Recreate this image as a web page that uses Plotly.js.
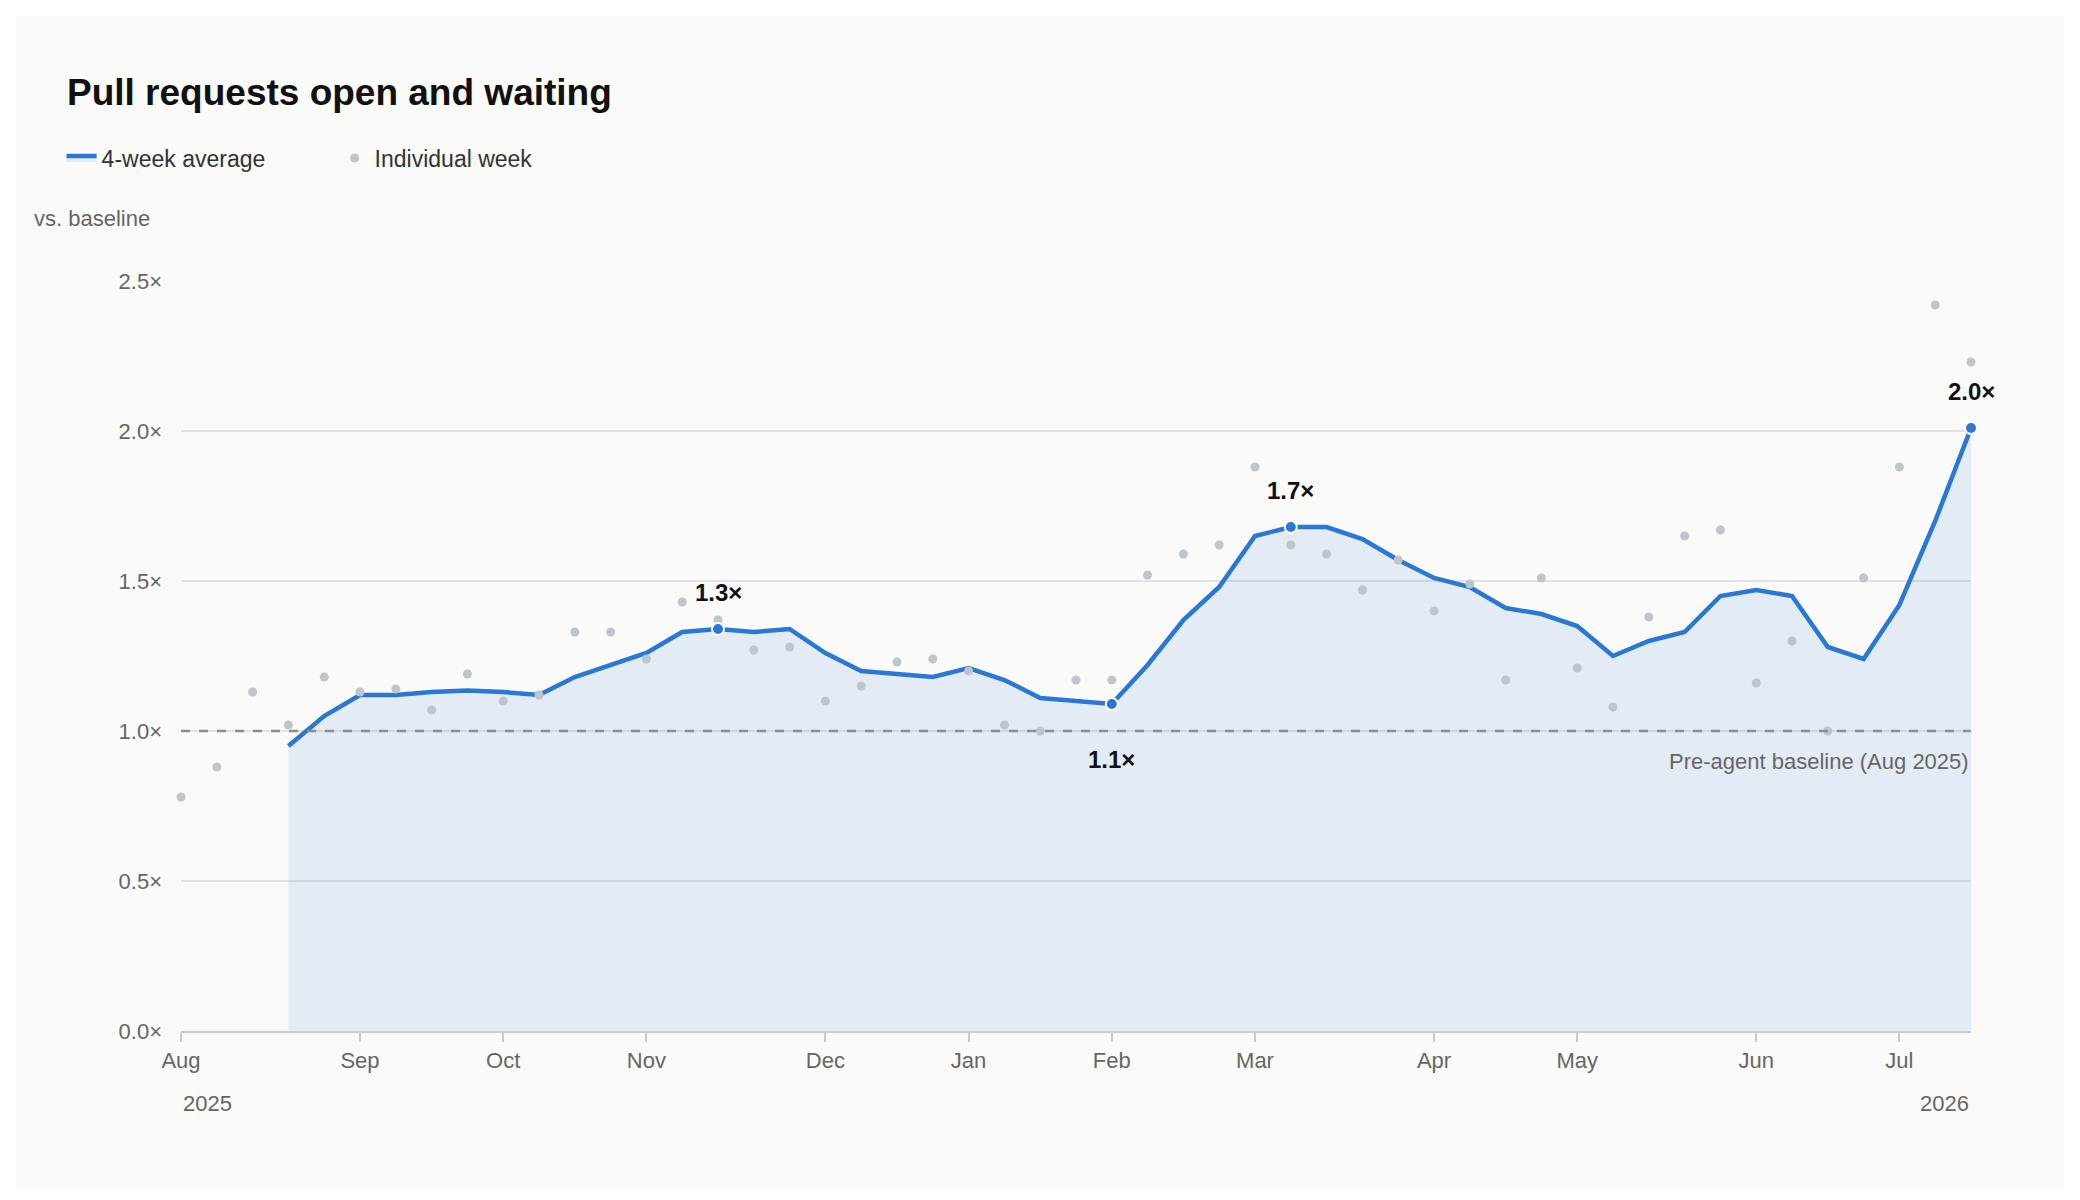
<!DOCTYPE html>
<html>
<head>
<meta charset="utf-8">
<script src="https://cdn.plot.ly/plotly-3.0.1.min.js"></script>
<style>
  body { margin: 0; background: #ffffff; }
  #chart { position: absolute; left: 16px; top: 16px; width: 2048px; height: 1172px; }
</style>
</head>
<body>
<div id="chart"></div>
<script>
// week index 0 = first week of Aug 2025, 50 = mid Jul 2026
const monthTicks = [0, 5, 9, 13, 18, 22, 26, 30, 35, 39, 44, 48];
const monthLabels = ['Aug', 'Sep', 'Oct', 'Nov', 'Dec', 'Jan', 'Feb', 'Mar', 'Apr', 'May', 'Jun', 'Jul'];

const weekly = [0.78, 0.88, 1.13, 1.02, 1.18, 1.13, 1.14, 1.07, 1.19, 1.10,
  1.12, 1.33, 1.33, 1.24, 1.43, 1.37, 1.27, 1.28, 1.10, 1.15,
  1.23, 1.24, 1.20, 1.02, 1.00, 1.17, 1.17, 1.52, 1.59, 1.62,
  1.88, 1.62, 1.59, 1.47, 1.57, 1.40, 1.49, 1.17, 1.51, 1.21,
  1.08, 1.38, 1.65, 1.67, 1.16, 1.30, 1.00, 1.51, 1.88, 2.42, 2.23];

// 4-week average, starts at week 3
const avgStart = 3;
const avgValues = [0.95, 1.05, 1.12, 1.12, 1.13, 1.135, 1.13, 1.12, 1.18, 1.22,
  1.26, 1.33, 1.34, 1.33, 1.34, 1.26, 1.20, 1.19, 1.18, 1.21,
  1.17, 1.11, 1.10, 1.09, 1.22, 1.37, 1.48, 1.65, 1.68, 1.68,
  1.64, 1.57, 1.51, 1.48, 1.41, 1.39, 1.35, 1.25, 1.30, 1.33,
  1.45, 1.47, 1.45, 1.28, 1.24, 1.42, 1.70, 2.01];

const highlightWeeks = [15, 26, 31, 50];
const highlightLabels = ['1.3×', '1.1×', '1.7×', '2.0×'];
const highlightShift = [37, -55, 37, 37];

const weekIdx = weekly.map((_, i) => i);
const avgX = avgValues.map((_, i) => i + avgStart);
const hlY = highlightWeeks.map(w => avgValues[w - avgStart]);

const blue = '#2a78d6';
const font = '"Liberation Sans", Arial, Helvetica, sans-serif';

const data = [
  {
    x: avgX, y: avgValues, type: 'scatter', mode: 'lines',
    fill: 'tozeroy', fillcolor: 'rgba(42,120,214,0.11)',
    line: { color: blue, width: 4.5 },
    name: '4-week average', hoverinfo: 'skip', cliponaxis: false
  },
  {
    x: weekIdx, y: weekly, type: 'scatter', mode: 'markers',
    marker: { color: '#bfc5cc', size: 9 },
    name: 'Individual week', cliponaxis: false
  },
  {
    x: highlightWeeks, y: hlY, type: 'scatter', mode: 'markers',
    marker: { color: blue, size: 12, line: { color: '#ffffff', width: 2 } },
    showlegend: false, cliponaxis: false
  }
];

const annotations = highlightWeeks.map((w, i) => ({
  x: w, y: hlY[i], text: '<b>' + highlightLabels[i] + '</b>', showarrow: false,
  yshift: highlightShift[i], font: { family: font, size: 24, color: '#111' }
}));

annotations.push(
  { xref: 'paper', yref: 'paper', x: -0.0647, y: 1.2507, xanchor: 'left', yanchor: 'middle',
    text: '<b>Pull requests open and waiting</b>', showarrow: false,
    font: { family: font, size: 37, color: '#111' } },
  { xref: 'paper', yref: 'paper', x: -0.0831, y: 1.0827, xanchor: 'left', yanchor: 'middle',
    text: 'vs. baseline', showarrow: false, font: { family: font, size: 22, color: '#666' } },
  { x: 50, y: 0.9, xanchor: 'right', yanchor: 'middle', text: 'Pre-agent baseline (Aug 2025)',
    showarrow: false, font: { family: font, size: 22, color: '#666' } },
  { x: 0, yref: 'paper', y: 0, yshift: -72, xanchor: 'left', yanchor: 'middle', text: '2025',
    showarrow: false, font: { family: font, size: 22, color: '#666' } },
  { x: 50, yref: 'paper', y: 0, yshift: -72, xanchor: 'right', yanchor: 'middle', text: '2026',
    showarrow: false, font: { family: font, size: 22, color: '#666' } }
);

const layout = {
  width: 2048, height: 1172,
  paper_bgcolor: '#fafaf9', plot_bgcolor: '#fafaf9',
  margin: { l: 165, r: 93, t: 265, b: 157 },
  font: { family: font, size: 22, color: '#666' },
  showlegend: true,
  legend: {
    orientation: 'h', x: -0.0667, y: 1.164, xanchor: 'left', yanchor: 'middle',
    font: { family: font, size: 23, color: '#333' }, bgcolor: 'rgba(0,0,0,0)',
    entrywidth: 228, entrywidthmode: 'pixels'
  },
  xaxis: {
    range: [0, 50], tickvals: monthTicks, ticktext: monthLabels,
    showgrid: false, zeroline: false, showline: true, linecolor: '#c8ccd0', linewidth: 2,
    ticks: 'outside', ticklen: 9, tickcolor: '#c8ccd0', tickwidth: 2,
    tickfont: { family: font, size: 22, color: '#666' }
  },
  yaxis: {
    range: [0, 2.5], tickvals: [0, 0.5, 1, 1.5, 2, 2.5],
    ticktext: ['0.0×', '0.5×', '1.0×', '1.5×', '2.0×', '2.5×'],
    showgrid: true, gridcolor: '#e2e2e2', gridwidth: 1.5, zeroline: false,
    ticks: '', ticklabelstandoff: 18,
    tickfont: { family: font, size: 22, color: '#666' }
  },
  shapes: [
    { type: 'line', xref: 'paper', x0: 0, x1: 1, y0: 1, y1: 1,
      line: { color: '#8a8d91', width: 2.5, dash: 'dash' } }
  ],
  annotations: annotations
};

Plotly.newPlot('chart', data, layout, { displayModeBar: false, staticPlot: true });
</script>
</body>
</html>
